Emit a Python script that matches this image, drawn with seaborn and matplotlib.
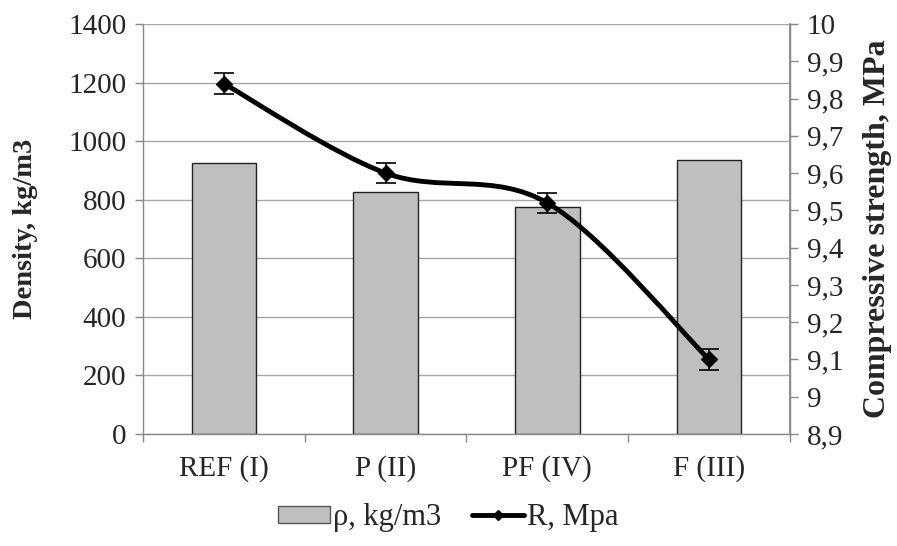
"""Density bars with compressive strength line on a second axis."""
import matplotlib
matplotlib.use("Agg")
import matplotlib.pyplot as plt
import numpy as np
import pandas as pd
import seaborn as sns
from matplotlib.path import Path
from matplotlib.patches import PathPatch
from matplotlib.lines import Line2D
from matplotlib.patches import Patch
from matplotlib.ticker import FuncFormatter, MultipleLocator

categories = ["REF (I)", "P (II)", "PF (IV)", "F (III)"]
density = [924, 827, 776, 937]            # kg/m3
strength = [9.84, 9.60, 9.52, 9.10]       # MPa
strength_err = [0.028, 0.027, 0.027, 0.027]

sns.set_theme(style="white")
plt.rcParams["font.family"] = ["Liberation Serif", "DejaVu Serif"]

fig = plt.figure(figsize=(8.97, 5.46), dpi=100)
ax = fig.add_axes([0.1594, 0.2051, 0.7213, 0.7509])

df = pd.DataFrame({"cat": categories, "density": density})
sns.barplot(data=df, x="cat", y="density", color="#BFBFBF", saturation=1,
            width=0.4, edgecolor="#222222", linewidth=1.0, ax=ax, zorder=2)

ax.set_ylim(0, 1400)
ax.set_xlim(-0.5, 3.5)
ax.yaxis.set_major_locator(MultipleLocator(200))
ax.grid(axis="y", color="#A6A6A6", lw=1.0, zorder=0)
ax.set_axisbelow(True)
ax.set_xlabel("")
ax.set_ylabel("Density, kg/m3", fontsize=20.5, fontweight="bold", labelpad=22)
ax.set_xticks(np.arange(len(categories)))
ax.set_xticklabels(categories, fontsize=21)
ax.tick_params(axis="x", length=0, pad=15)
# category boundary ticks
ax.set_xticks(np.arange(len(categories) + 1) - 0.5, minor=True)
ax.tick_params(axis="x", which="minor", length=6, width=1, color="#888888",
               direction="out", bottom=True)
ax.tick_params(axis="y", labelsize=21, length=6, width=1, color="#888888",
               direction="out", left=True, pad=6)
ax.spines["top"].set_visible(False)
for side in ["left", "bottom", "right"]:
    ax.spines[side].set_color("#888888")
    ax.spines[side].set_linewidth(1.0)

ax2 = ax.twinx()
ax2.set_ylim(8.9, 10.0)
ax2.yaxis.set_major_locator(MultipleLocator(0.1))
ax2.yaxis.set_major_formatter(
    FuncFormatter(lambda v, p: f"{v:.1f}".replace(".", ",").replace(",0", "")))
ax2.tick_params(axis="y", labelsize=21, length=6, width=1, color="#888888",
                direction="out", right=True, pad=6)
for side in ["top", "left", "bottom"]:
    ax2.spines[side].set_visible(False)
ax2.spines["right"].set_color("#888888")
ax2.set_ylabel("Compressive strength, MPa", fontsize=23, fontweight="bold",
               labelpad=14)

# smoothed line (Catmull-Rom style Bezier through the points)
xs = np.arange(len(strength), dtype=float)
ys = np.array(strength)
verts = [(xs[0], ys[0])]
codes = [Path.MOVETO]
n = len(xs)
for i in range(n - 1):
    p0 = np.array([xs[max(i - 1, 0)], ys[max(i - 1, 0)]])
    p1 = np.array([xs[i], ys[i]])
    p2 = np.array([xs[i + 1], ys[i + 1]])
    p3 = np.array([xs[min(i + 2, n - 1)], ys[min(i + 2, n - 1)]])
    c1 = p1 + (p2 - p0) / 6
    c2 = p2 - (p3 - p1) / 6
    verts += [tuple(c1), tuple(c2), tuple(p2)]
    codes += [Path.CURVE4] * 3
ax2.add_patch(PathPatch(Path(verts, codes), facecolor="none",
                        edgecolor="black", lw=3.5, zorder=3))
sns.scatterplot(x=xs, y=ys, marker="D", s=70, color="black", ax=ax2, zorder=4,
                edgecolor="black")
ax2.errorbar(xs, ys, yerr=strength_err, fmt="none", ecolor="black",
             elinewidth=1.2, capsize=7, capthick=1.2, zorder=4)

handles = [
    Patch(facecolor="#BFBFBF", edgecolor="#555555", lw=1.0),
    Line2D([0], [0], color="black", lw=3.5, marker="D", markersize=5),
]
fig.legend(handles, ["ρ, kg/m3", "R, Mpa"], loc="center",
           bbox_to_anchor=(0.5, 0.052), ncol=2, frameon=False, fontsize=22,
           handlelength=1.7, handleheight=0.5, handletextpad=0.1,
           columnspacing=1.0)

fig.savefig("out.png", dpi=100)
